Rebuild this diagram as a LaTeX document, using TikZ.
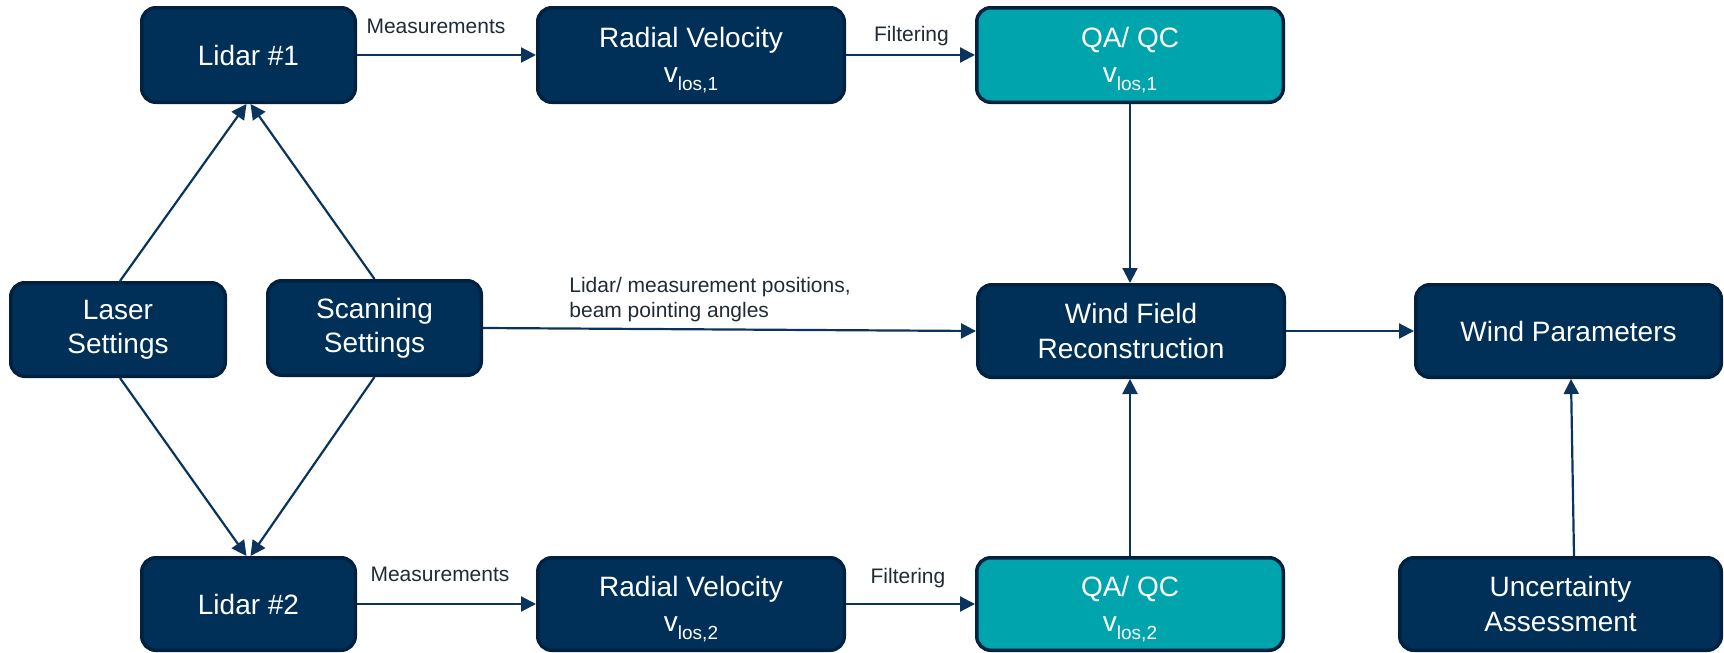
\documentclass[tikz,border=0pt]{standalone}
\usepackage{fontspec}
\setmainfont{Liberation Sans}
\usetikzlibrary{arrows.meta}
\definecolor{navyfill}{RGB}{0,48,87}
\definecolor{navyedge}{RGB}{0,33,64}
\definecolor{tealfill}{RGB}{0,164,173}
\definecolor{arrowcol}{RGB}{10,52,94}
\definecolor{labelcol}{RGB}{33,43,54}
\newcommand{\vlos}[1]{v\raisebox{-4pt}[0pt][0pt]{\fontsize{9.5}{10}\selectfont los,#1}}
\tikzset{
  box/.style={draw=navyedge, line width=1.75pt, fill=navyfill, rounded corners=7pt,
    text=white, align=center, inner sep=0pt,
    font=\fontsize{14}{17.2}\selectfont},
  qabox/.style={box, fill=tealfill},
  conn/.style={draw=arrowcol, line width=1.1pt, -{Triangle[length=7.5pt,width=7.5pt]}},
  lbl/.style={text=labelcol, font=\fontsize{10.5}{12.5}\selectfont, inner sep=0pt},
}
\begin{document}
\begin{tikzpicture}[x=0.5pt,y=-0.5pt]
\useasboundingbox (0,0) rectangle (1724,653);
% top row
\node[box, minimum width=106.75pt, minimum height=47.25pt] (L1) at (248.5,55) {Lidar \#1};
\node[box, minimum width=153.25pt, minimum height=47.25pt] (RV1) at (691,55) {Radial Velocity\\\vlos{1}};
\node[qabox, minimum width=153.25pt, minimum height=47.25pt] (QA1) at (1130,55) {QA/ QC\\\vlos{1}};
% middle row
\node[box, minimum width=107.25pt, minimum height=46.75pt] (LS) at (118,329.5) {Laser\\Settings};
\node[box, minimum width=106.75pt, minimum height=47.25pt] (SS) at (374.5,328) {Scanning\\Settings};
\node[box, minimum width=153.25pt, minimum height=46.25pt] (WF) at (1131,331) {Wind Field\\Reconstruction};
\node[box, minimum width=152.75pt, minimum height=46.25pt] (WP) at (1568.5,331) {Wind Parameters};
% bottom row
\node[box, minimum width=106.75pt, minimum height=46.25pt] (L2) at (248.5,604) {Lidar \#2};
\node[box, minimum width=153.25pt, minimum height=46.25pt] (RV2) at (691,604) {Radial Velocity\\\vlos{2}};
\node[qabox, minimum width=153.25pt, minimum height=46.25pt] (QA2) at (1130,604) {QA/ QC\\\vlos{2}};
\node[box, minimum width=160.75pt, minimum height=46.25pt] (UA) at (1560.5,604) {Uncertainty\\Assessment};
% connectors
\draw[conn] (L1.east) -- (RV1.west);
\draw[conn] (RV1.east) -- (QA1.west);
\draw[conn] (L2.east) -- (RV2.west);
\draw[conn] (RV2.east) -- (QA2.west);
\draw[conn] (QA1.south) -- (QA1.south |- WF.north);
\draw[conn] (QA2.north) -- (QA2.north |- WF.south);
\draw[conn] (SS.east) -- (WF.west);
\draw[conn] (WF.east) -- (WP.west);
\draw[conn] ([xshift=6.75pt]UA.north) -- ([xshift=1.25pt]WP.south);
\draw[conn] ([xshift=1pt]LS.north) -- ([xshift=-1pt]L1.south);
\draw[conn] (SS.north) -- ([xshift=1pt]L1.south);
\draw[conn] ([xshift=1pt]LS.south) -- ([xshift=-1pt]L2.north);
\draw[conn] (SS.south) -- ([xshift=1pt]L2.north);
% labels
\node[lbl, anchor=base] (m1) at (436,33) {Measurements};
\node[lbl, anchor=base] (f1) at (911.5,41) {Filtering};
\node[lbl, anchor=base] (m2) at (440,581) {Measurements};
\node[lbl, anchor=base] (f2) at (908,583) {Filtering};
\node[lbl, anchor=north west, align=left] (pos) at (569,277) {Lidar/ measurement positions,\\beam pointing angles};
\end{tikzpicture}
\end{document}
